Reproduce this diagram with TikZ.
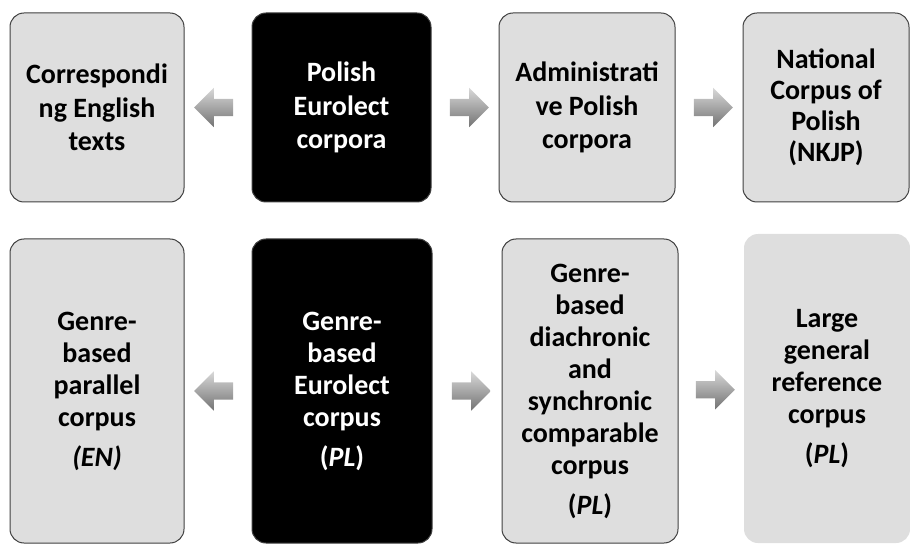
\documentclass[tikz,border=0pt]{standalone}
\usepackage{fontspec}
\setmainfont{Carlito}
\usetikzlibrary{shapes.arrows,calc}
\tikzstyle{caja}=[draw=black!75,line width=1pt,fill=black!13,rounded corners=14pt,align=center,inner sep=0pt,font=\fontsize{28}{32}\selectfont\bfseries]
\tikzstyle{negra}=[caja,fill=black,text=white]
\tikzstyle{arriba}=[minimum height=189pt,font=\fontsize{28}{33.5}\selectfont\bfseries]
\tikzstyle{abajo}=[minimum height=304pt]
\tikzstyle{flecha}=[single arrow,draw=none,minimum height=39pt,inner sep=8.5pt,single arrow head extend=11pt,top color=black!15,bottom color=black!55]

\begin{document}
\begin{tikzpicture}[x=1pt,y=1pt]
    \useasboundingbox (0,0) rectangle (910,-545);
    % fila de arriba
    \node [caja,arriba,minimum width=174pt] (ingles) at (97,-107.5) {Correspondi\\ng English\\texts};
    \node [negra,arriba,minimum width=179pt] (polaco) at (341.5,-107.5) {Polish\\Eurolect\\corpora};
    \node [caja,arriba,minimum width=176pt] (admin) at (587,-107.5) {Administrati\\ve Polish\\corpora};
    \node [caja,arriba,minimum width=166pt,font=\fontsize{28}{31}\selectfont\bfseries] (nkjp) at (826,-107.5) {National\\Corpus of\\Polish\\(NKJP)};
    \node [flecha,shape border rotate=180] (f1) at ($(ingles.east)!0.5!(polaco.west)$) {};
    \node [flecha] (f2) at ($(polaco.east)!0.5!(admin.west)$) {};
    \node [flecha] (f3) at ($(admin.east)!0.5!(nkjp.west)$) {};
    % fila de abajo
    \node [caja,abajo,minimum width=174pt] (paralelo) at (97,-391) {Genre-\\based\\parallel\\corpus\\[8pt]\textit{(EN)}};
    \node [negra,abajo,minimum width=180pt] (euro) at (342,-391) {Genre-\\based\\Eurolect\\corpus\\[8pt](\textit{PL})};
    \node [caja,abajo,minimum width=176pt] (comp) at (590,-391) {Genre-\\based\\diachronic\\and\\synchronic\\comparable\\corpus\\[8pt](\textit{PL})};
    \node [caja,abajo,draw=none,minimum width=166pt,minimum height=309pt] (ref) at (827,-388.5) {Large\\general\\reference\\corpus\\[8pt](\textit{PL})};
    \node [flecha,shape border rotate=180] (f4) at ($(paralelo.east)!0.5!(euro.west)$) {};
    \node [flecha] (f5) at ($(euro.east)!0.5!(comp.west)$) {};
    \node [flecha] (f6) at ($(comp.east)!0.5!(ref.west)$) {};
\end{tikzpicture}
\end{document}
